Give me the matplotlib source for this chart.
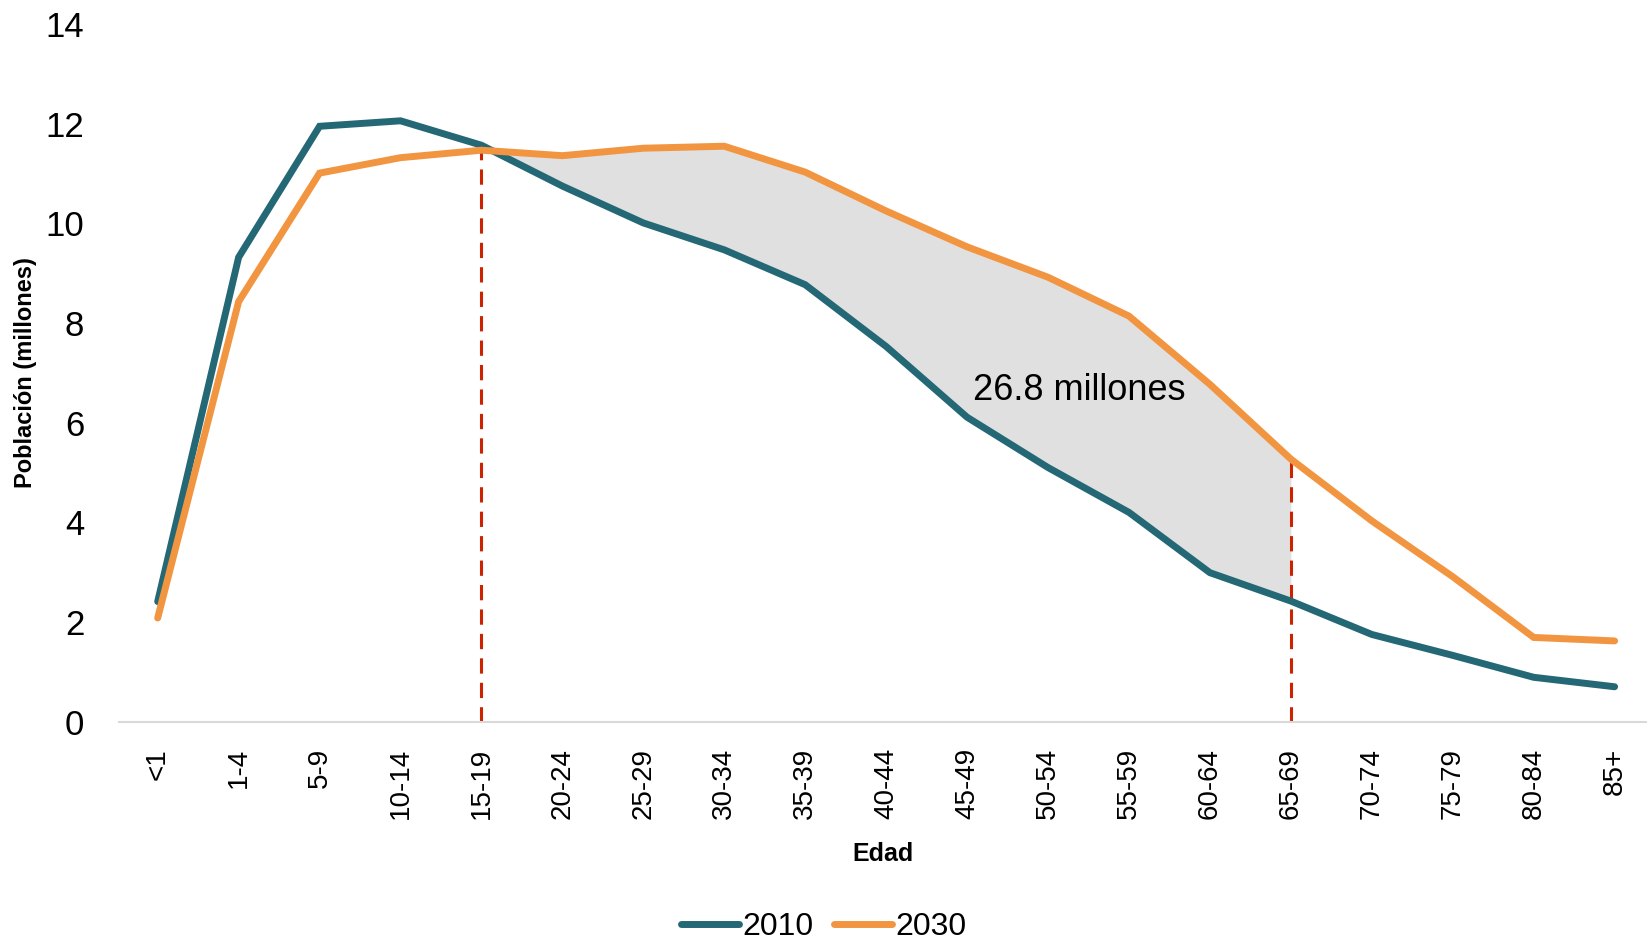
import matplotlib
matplotlib.use("Agg")
import matplotlib.pyplot as plt
from matplotlib import font_manager

names = {f.name for f in font_manager.fontManager.ttflist}
HAS_NARROW = 'Liberation Sans Narrow' in names
NARROW = ['Liberation Sans Narrow', 'DejaVu Sans'] if HAS_NARROW else ['Liberation Sans', 'DejaVu Sans']
REG = ['Liberation Sans', 'DejaVu Sans']

categories = ["<1", "1-4", "5-9", "10-14", "15-19", "20-24", "25-29", "30-34", "35-39",
              "40-44", "45-49", "50-54", "55-59", "60-64", "65-69", "70-74", "75-79",
              "80-84", "85+"]
pop_2010 = [2.41, 9.32, 11.95, 12.06, 11.57, 10.75, 10.01, 9.47, 8.77, 7.53, 6.11, 5.10,
            4.20, 2.99, 2.42, 1.75, 1.33, 0.89, 0.70]
pop_2030 = [2.08, 8.43, 11.01, 11.32, 11.47, 11.36, 11.51, 11.55, 11.03, 10.25, 9.53, 8.92,
            8.14, 6.77, 5.27, 4.03, 2.91, 1.69, 1.62]
yticks = [0, 2, 4, 6, 8, 10, 12, 14]
shade_start, shade_end = 4, 14
annotation = "26.8 millones"

C2010 = "#246876"
C2030 = "#F29541"
RED = "#CC2200"

fig = plt.figure(figsize=(16.47, 9.4), dpi=100)
ax = fig.add_axes([0.0723, 0.2323, 0.9277, 0.742])

x = list(range(len(categories)))
xs = x[shade_start:shade_end + 1]
ax.fill_between(xs, pop_2010[shade_start:shade_end + 1], pop_2030[shade_start:shade_end + 1],
                color="#e0e0e0", linewidth=0, zorder=1)

for xi in (shade_start, shade_end):
    ax.plot([xi, xi], [0, pop_2030[xi]], color=RED, lw=2.2, dashes=(5, 3), zorder=2)

ax.plot(x, pop_2010, color=C2010, lw=5, solid_capstyle='round', solid_joinstyle='miter', label="2010", zorder=3)
ax.plot(x, pop_2030, color=C2030, lw=5, solid_capstyle='round', solid_joinstyle='miter', label="2030", zorder=3)

ax.text(11.39, 6.64, annotation, ha='center', va='center',
        fontsize=30 if HAS_NARROW else 26, family=NARROW, zorder=4)

ax.set_xlim(-0.477, 18.40)
ax.set_ylim(0, 14)
ax.set_yticks(yticks)
ax.set_yticklabels([str(v) for v in yticks], family=NARROW, fontsize=26 if HAS_NARROW else 25)
ax.set_xticks(x)
ax.set_xticklabels(categories, rotation=90, family=REG, fontsize=20)
ax.tick_params(axis='y', length=0, pad=25)
ax.tick_params(axis='x', length=0, pad=19)

for s in ('top', 'right', 'left'):
    ax.spines[s].set_visible(False)
ax.spines['bottom'].set_color('#d9d9d9')
ax.spines['bottom'].set_linewidth(1.5)

ax.set_ylabel("Población (millones)", family=NARROW, fontsize=19 if HAS_NARROW else 17, fontweight='bold')
ax.yaxis.set_label_coords(-0.054, 0.5)
ax.set_xlabel("Edad", family=NARROW, fontsize=18, fontweight='bold')
ax.xaxis.set_label_coords(0.5, -0.173)

leg_size = 25 if HAS_NARROW else 23
leg = fig.legend(loc='center', bbox_to_anchor=(0.5, 0.014), ncol=2, frameon=False,
                 prop={'family': NARROW, 'size': leg_size}, handlelength=58 / (leg_size * 100 / 72),
                 handletextpad=0.1, columnspacing=0.65)

fig.savefig("out.png", dpi=100)
